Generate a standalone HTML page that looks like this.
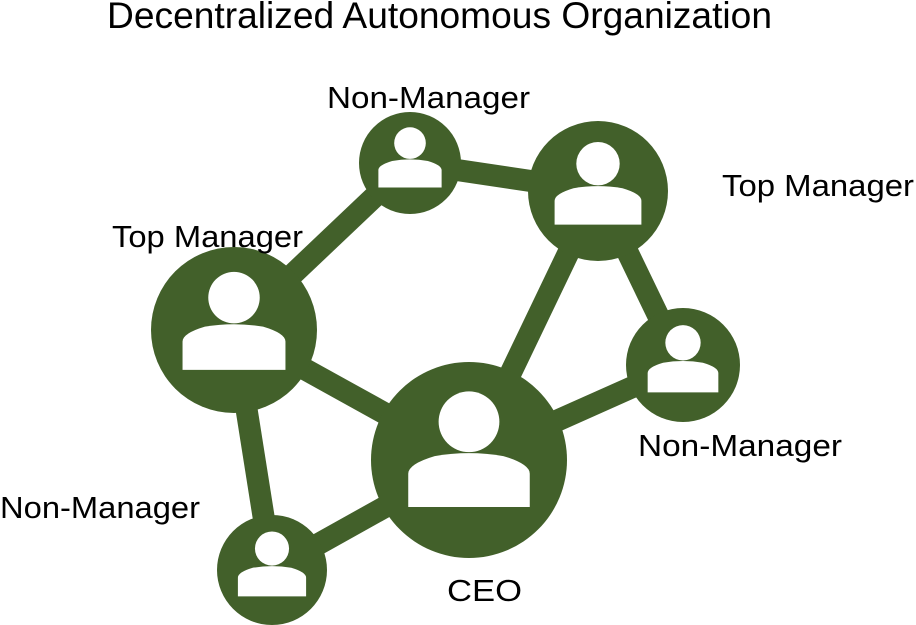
<!DOCTYPE html>
<html><head><style>html,body{margin:0;padding:0;background:#fff;}svg{display:block;}</style></head>
<body>
<svg width="916" height="625" viewBox="0 0 916 625" xmlns="http://www.w3.org/2000/svg" font-family="Liberation Sans, Arial, sans-serif">
<defs>
<g id="icon">
<circle cx="0" cy="-0.39" r="0.31" fill="#fff"/>
<path d="M-0.62,0.48 L-0.62,0.14 Q-0.62,0.04 -0.35,-0.04 Q0,-0.1 0.35,-0.04 Q0.62,0.04 0.62,0.14 L0.62,0.48 Z" fill="#fff"/>
</g>
</defs>
<g stroke="#42602a" stroke-width="22" fill="none">
<line x1="410" y1="163" x2="598" y2="191"/>
<line x1="410" y1="163" x2="234" y2="330"/>
<line x1="234" y1="330" x2="469" y2="460"/>
<line x1="234" y1="330" x2="272" y2="570"/>
<line x1="272" y1="570" x2="469" y2="460"/>
<line x1="469" y1="460" x2="598" y2="191"/>
<line x1="598" y1="191" x2="682" y2="365"/>
<line x1="682" y1="365" x2="469" y2="460"/>
</g>
<g fill="#42602a">
<circle cx="410" cy="163" r="51"/>
<circle cx="598" cy="191" r="70"/>
<circle cx="234" cy="330" r="83"/>
<circle cx="683" cy="365" r="57"/>
<circle cx="469" cy="460" r="98"/>
<circle cx="272" cy="570" r="55"/>
</g>
<use href="#icon" transform="translate(410,163) scale(51)"/>
<use href="#icon" transform="translate(598,191) scale(70)"/>
<use href="#icon" transform="translate(234,330) scale(83)"/>
<use href="#icon" transform="translate(683,365) scale(57)"/>
<use href="#icon" transform="translate(469,460) scale(98)"/>
<use href="#icon" transform="translate(272,570) scale(55)"/>
<g fill="#000" font-size="31">
<text x="107" y="28" font-size="37" textLength="665" lengthAdjust="spacingAndGlyphs">Decentralized Autonomous Organization</text>
<text x="327" y="108" textLength="203" lengthAdjust="spacingAndGlyphs">Non-Manager</text>
<text x="722" y="196" textLength="192" lengthAdjust="spacingAndGlyphs">Top Manager</text>
<text x="112" y="247" textLength="191" lengthAdjust="spacingAndGlyphs">Top Manager</text>
<text x="638" y="456" textLength="204" lengthAdjust="spacingAndGlyphs">Non-Manager</text>
<text x="0" y="518" textLength="200" lengthAdjust="spacingAndGlyphs">Non-Manager</text>
<text x="447" y="601" textLength="75" lengthAdjust="spacingAndGlyphs">CEO</text>
</g>
</svg>
</body></html>
